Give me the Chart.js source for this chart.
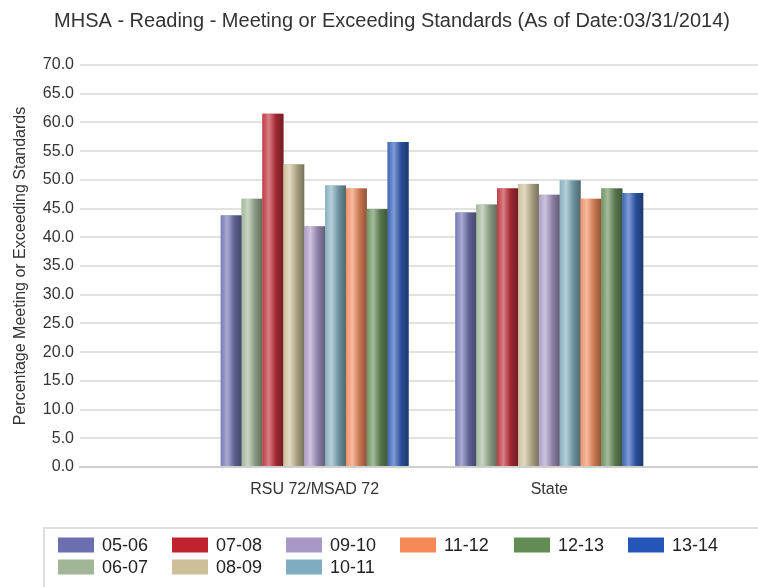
<!DOCTYPE html>
<html>
<head>
<meta charset="utf-8">
<title>MHSA - Reading</title>
<script src="https://cdn.jsdelivr.net/npm/chart.js@4.4.1/dist/chart.umd.min.js"></script>
<style>
  html, body { margin: 0; padding: 0; background: #fff; overflow: hidden; }
  #wrap { width: 786px; height: 587px; }
</style>
</head>
<body>
<div id="wrap"><canvas id="mhsaChart" width="786" height="587"></canvas></div>
<script>
// categories (empty slots at both ends keep the two groups where the original had them)
var categories = ['', 'RSU 72/MSAD 72', 'State', ''];

// school years, one series each: [RSU 72/MSAD 72, State]
var years = ['05-06', '06-07', '07-08', '08-09', '09-10', '10-11', '11-12', '12-13', '13-14'];
var s0506 = [43.8, 44.3];
var s0607 = [46.7, 45.7];
var s0708 = [61.5, 48.5];
var s0809 = [52.7, 49.3];
var s0910 = [41.9, 47.4];
var s1011 = [49.0, 49.9];
var s1112 = [48.5, 46.7];
var s1213 = [44.9, 48.5];
var s1314 = [56.6, 47.7];
var seriesValues = [s0506, s0607, s0708, s0809, s0910, s1011, s1112, s1213, s1314];

var seriesColors = [
    [107, 111, 176], [160, 182, 150], [192, 35, 46], [205, 192, 152], [168, 152, 200],
    [126, 174, 190], [245, 138, 88], [98, 140, 84], [37, 85, 184]
];

// y axis ticks
var yTickLabels = ['0.0', '5.0', '10.0', '15.0', '20.0', '25.0', '30.0', '35.0',
                   '40.0', '45.0', '50.0', '55.0', '60.0', '65.0', '70.0'];

// order the legend shows the years in (two rows)
var legendOrder = ['05-06', '07-08', '09-10', '11-12', '12-13', '13-14', '06-07', '08-09', '10-11'];

var FONT = '"Liberation Sans", Arial, sans-serif';

function rgb(c, k, w) {
    // k = darken factor, w = mix with white
    var r = c.map(function(v) { return Math.round((v * k) * (1 - w) + 255 * w); });
    return 'rgb(' + r[0] + ',' + r[1] + ',' + r[2] + ')';
}

// paints the shiny cylinder look on every bar the library placed
var shadeBars = {
    id: 'shadeBars',
    afterDatasetsDraw: function(chart) {
        var ctx = chart.ctx;
        chart.data.datasets.forEach(function(ds, i) {
            var meta = chart.getDatasetMeta(i);
            var c = seriesColors[i];
            meta.data.forEach(function(bar, j) {
                if (ds.data[j] == null) return;
                var p = bar.getProps(['x', 'y', 'base', 'width'], true);
                var l = p.x - p.width / 2;
                var g = ctx.createLinearGradient(l, 0, l + p.width, 0);
                g.addColorStop(0, rgb(c, 0.95, 0.12));
                g.addColorStop(0.3, rgb(c, 1, 0.42));
                g.addColorStop(0.65, rgb(c, 0.8, 0.05));
                g.addColorStop(1, rgb(c, 0.55, 0.05));
                ctx.save();
                ctx.fillStyle = g;
                ctx.fillRect(l, p.y, p.width, p.base - p.y);
                ctx.restore();
            });
        });
    }
};

// boxed legend at the bottom
var boxLegend = {
    id: 'boxLegend',
    afterDraw: function(chart) {
        var ctx = chart.ctx;
        ctx.save();
        ctx.strokeStyle = '#dedede';
        ctx.lineWidth = 2;
        ctx.strokeRect(44, 528, chart.width, 100);
        ctx.font = '18px ' + FONT;
        ctx.textBaseline = 'middle';
        legendOrder.forEach(function(name, k) {
            var i = years.indexOf(name);
            var row = k < 6 ? 0 : 1;
            var col = k < 6 ? k : k - 6;
            var x = 58 + col * 114;
            var y = 545 + row * 22;
            ctx.fillStyle = rgb(seriesColors[i], 1, 0);
            ctx.fillRect(x, y - 7.5, 36, 15);
            ctx.fillStyle = '#222';
            ctx.fillText(chart.data.datasets[i].label, x + 44, y + 1);
        });
        ctx.restore();
    }
};

var datasets = years.map(function(y, i) {
    return {
        label: y,
        data: [null].concat(seriesValues[i]).concat([null]),
        backgroundColor: rgb(seriesColors[i], 1, 0),
        borderWidth: 0,
        categoryPercentage: 0.8,
        barPercentage: 1.0
    };
});

var ctx = document.getElementById('mhsaChart').getContext('2d');
var chart = new Chart(ctx, {
    type: 'bar',
    data: { labels: categories, datasets: datasets },
    plugins: [shadeBars, boxLegend],
    options: {
        responsive: false,
        animation: false,
        devicePixelRatio: 1,
        layout: { padding: { left: 0, right: 2, top: 0, bottom: 90 } },
        plugins: {
            legend: { display: false },
            tooltip: { enabled: false },
            title: {
                display: true,
                text: 'MHSA - Reading - Meeting or Exceeding Standards (As of Date:03/31/2014)',
                color: '#333',
                font: { family: FONT, size: 20, weight: 'normal', lineHeight: 1.2 },
                padding: { top: 9, bottom: 32 }
            }
        },
        scales: {
            x: {
                offset: false,
                grid: { display: true, drawOnChartArea: false, drawTicks: true, tickLength: 13, color: 'rgba(0,0,0,0)' },
                border: { display: true, color: '#cfcfcf', width: 2 },
                ticks: { color: '#333', font: { family: FONT, size: 16 }, padding: 0, maxRotation: 0, autoSkip: false },
                afterFit: function(scale) { scale.height = 30; }
            },
            y: {
                min: 0,
                max: 70,
                ticks: {
                    stepSize: 5,
                    color: '#333',
                    padding: 6,
                    font: { family: FONT, size: 16 },
                    callback: function(v) { return yTickLabels[Math.round(v / 5)]; }
                },
                grid: { color: '#e2e2e2', lineWidth: 2, drawTicks: false },
                border: { display: false },
                title: {
                    display: true,
                    text: 'Percentage Meeting or Exceeding Standards',
                    color: '#333',
                    font: { family: FONT, size: 16 },
                    padding: { top: 11, bottom: 0 }
                },
                afterFit: function(scale) { scale.width = 80; }
            }
        }
    }
});
</script>
</body>
</html>
